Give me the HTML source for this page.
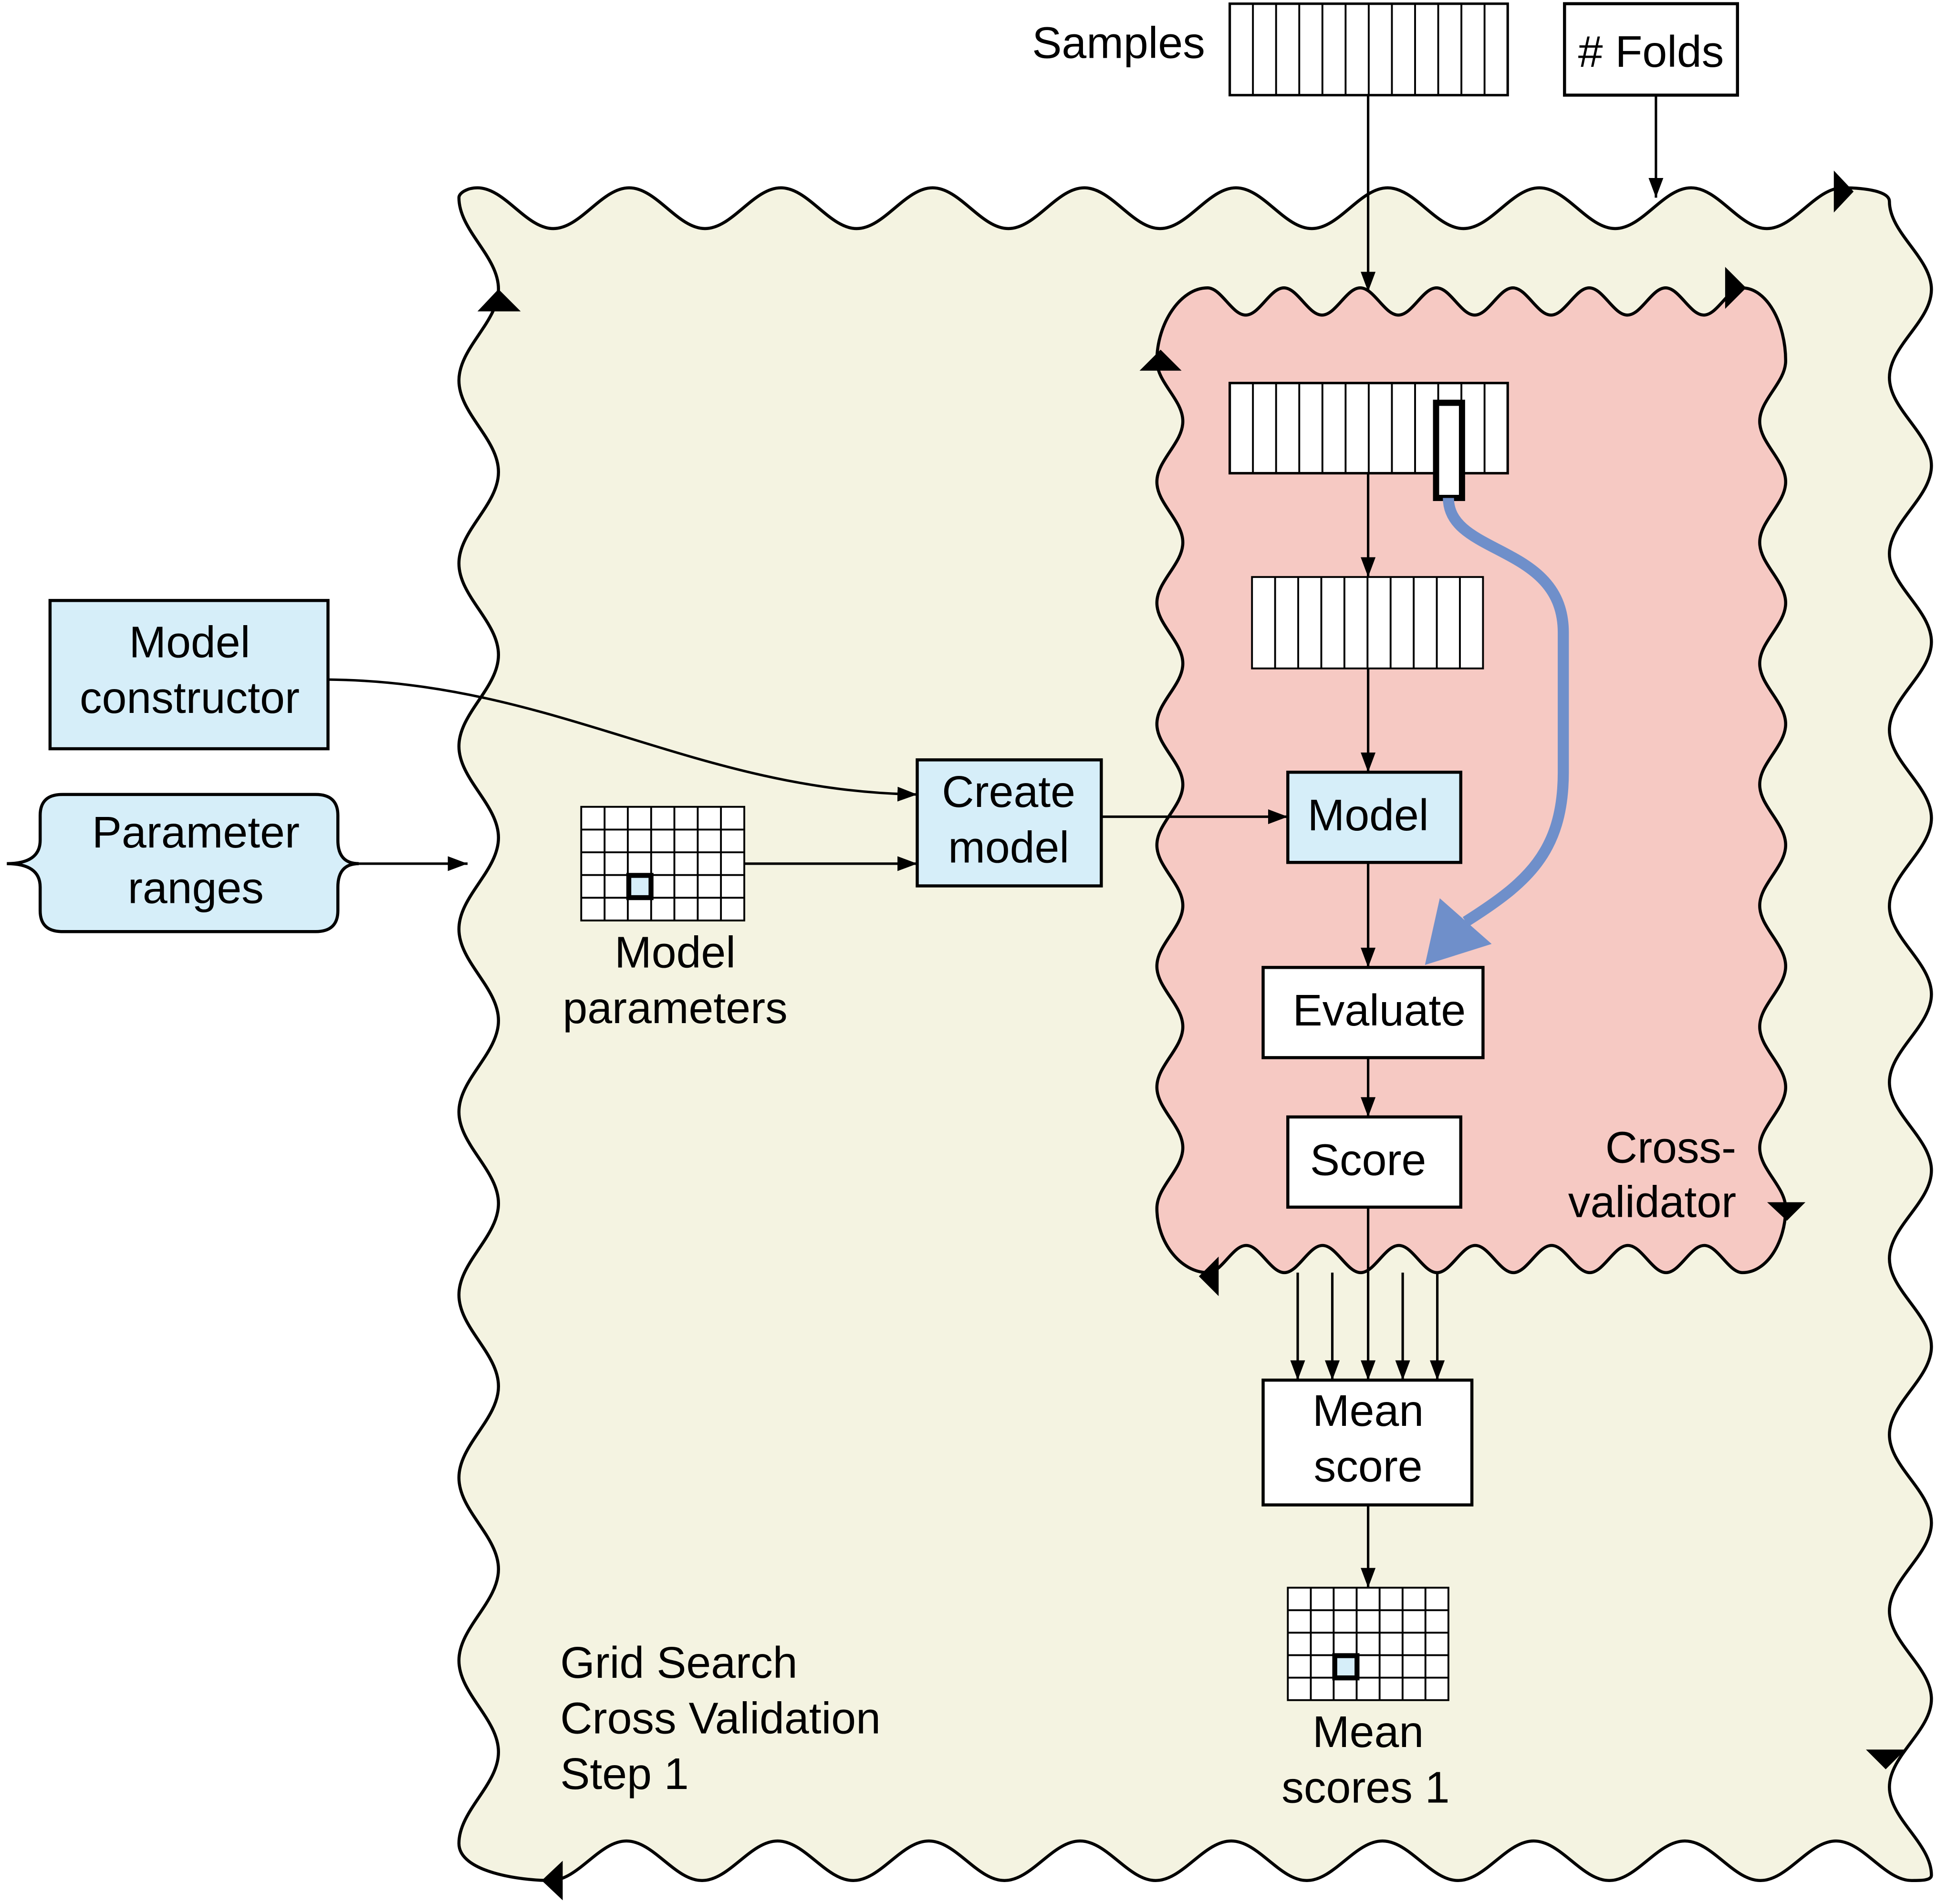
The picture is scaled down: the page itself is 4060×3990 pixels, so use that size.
<!DOCTYPE html>
<html><head><meta charset="utf-8"><style>html,body{margin:0;padding:0;background:#fff}svg{display:block}text{font-family:"Liberation Sans",sans-serif;font-size:36px;fill:#000}</style></head>
<body>
<svg width="4060" height="3990" viewBox="0 0 1567 1541" xmlns="http://www.w3.org/2000/svg">
<defs>
<marker id="a" viewBox="0 0 16 12" refX="16" refY="6" markerWidth="16" markerHeight="12" markerUnits="userSpaceOnUse" orient="auto"><path d="M0,0L16,6L0,12z" fill="#000"/></marker>
<pattern id="g12" x="995" y="0" width="18.75" height="2000" patternUnits="userSpaceOnUse"><rect width="18.75" height="2000" fill="#fff" stroke="#000" stroke-width="1.5"/></pattern>
</defs>
<style>.l{stroke:#000;stroke-width:2;fill:none}.b{stroke:#000;stroke-width:2.5}</style>
<!-- outer wavy region -->
<path d="M386 152 c22.1 0 39.3 33 61.4 33 s39.3 -33 61.4 -33 s39.3 33 61.4 33 s39.3 -33 61.4 -33 s39.3 33 61.4 33 s39.3 -33 61.4 -33 s39.3 33 61.4 33 s39.3 -33 61.4 -33 s39.3 33 61.4 33 s39.3 -33 61.4 -33 s39.3 33 61.4 33 s39.3 -33 61.4 -33 s39.3 33 61.4 33 s39.3 -33 61.4 -33 s39.3 33 61.4 33 s39.3 -33 61.4 -33 s39.3 33 61.4 33 s39.3 -33 61.4 -33
C1510 152 1529 155 1529 163
c0 25.7 34 45.6 34 71.3 s-34 45.6 -34 71.3 s34 45.6 34 71.3 s-34 45.6 -34 71.3 s34 45.6 34 71.3 s-34 45.6 -34 71.3 s34 45.6 34 71.3 s-34 45.6 -34 71.3 s34 45.6 34 71.3 s-34 45.6 -34 71.3 s34 45.6 34 71.3 s-34 45.6 -34 71.3 s34 45.6 34 71.3 s-34 45.6 -34 71.3 s34 45.6 34 71.3 s-34 45.6 -34 71.3 s34 45.6 34 71.3 s-34 45.6 -34 71.3 s34 45.6 34 71.3
C1563 1522 1555 1522 1547 1522
c-22 0 -39.2 -32 -61.2 -32 s-39.2 32 -61.2 32 s-39.2 -32 -61.2 -32 s-39.2 32 -61.2 32 s-39.2 -32 -61.2 -32 s-39.2 32 -61.2 32 s-39.2 -32 -61.2 -32 s-39.2 32 -61.2 32 s-39.2 -32 -61.2 -32 s-39.2 32 -61.2 32 s-39.2 -32 -61.2 -32 s-39.2 32 -61.2 32 s-39.2 -32 -61.2 -32 s-39.2 32 -61.2 32 s-39.2 -32 -61.2 -32 s-39.2 32 -61.2 32 s-39.2 -32 -61.2 -32 s-39.2 32 -61.2 32
C420 1522 371 1515 371 1492
c0 -26.6 32 -47.4 32 -74 s-32 -47.4 -32 -74 s32 -47.4 32 -74 s-32 -47.4 -32 -74 s32 -47.4 32 -74 s-32 -47.4 -32 -74 s32 -47.4 32 -74 s-32 -47.4 -32 -74 s32 -47.4 32 -74 s-32 -47.4 -32 -74 s32 -47.4 32 -74 s-32 -47.4 -32 -74 s32 -47.4 32 -74 s-32 -47.4 -32 -74 s32 -47.4 32 -74 s-32 -47.4 -32 -74 s32 -47.4 32 -74 s-32 -47.4 -32 -74
C371 156 378 152 386 152 z" fill="#f4f3e1" stroke="#000" stroke-width="2.5"/>
<!-- inner pink region -->
<path d="M936 292 C936 262 955 233 977 233
c11.1 0 19.8 22 30.9 22 s19.8 -22 30.9 -22 s19.8 22 30.9 22 s19.8 -22 30.9 -22 s19.8 22 30.9 22 s19.8 -22 30.9 -22 s19.8 22 30.9 22 s19.8 -22 30.9 -22 s19.8 22 30.9 22 s19.8 -22 30.9 -22 s19.8 22 30.9 22 s19.8 -22 30.9 -22 s19.8 22 30.9 22 s19.8 -22 30.9 -22
C1430 233 1445 262 1445 292
c0 17.6 -21 31.4 -21 49 s21 31.4 21 49 s-21 31.4 -21 49 s21 31.4 21 49 s-21 31.4 -21 49 s21 31.4 21 49 s-21 31.4 -21 49 s21 31.4 21 49 s-21 31.4 -21 49 s21 31.4 21 49 s-21 31.4 -21 49 s21 31.4 21 49 s-21 31.4 -21 49 s21 31.4 21 49
C1445 1005 1430 1030 1410 1030
c-11.1 0 -19.8 -22 -30.9 -22 s-19.8 22 -30.9 22 s-19.8 -22 -30.9 -22 s-19.8 22 -30.9 22 s-19.8 -22 -30.9 -22 s-19.8 22 -30.9 22 s-19.8 -22 -30.9 -22 s-19.8 22 -30.9 22 s-19.8 -22 -30.9 -22 s-19.8 22 -30.9 22 s-19.8 -22 -30.9 -22 s-19.8 22 -30.9 22 s-19.8 -22 -30.9 -22 s-19.8 22 -30.9 22
C955 1030 936 1005 936 978
c0 -17.6 21 -31.4 21 -49 s-21 -31.4 -21 -49 s21 -31.4 21 -49 s-21 -31.4 -21 -49 s21 -31.4 21 -49 s-21 -31.4 -21 -49 s21 -31.4 21 -49 s-21 -31.4 -21 -49 s21 -31.4 21 -49 s-21 -31.4 -21 -49 s21 -31.4 21 -49 s-21 -31.4 -21 -49 s21 -31.4 21 -49 s-21 -31.4 -21 -49 z" fill="#f6c9c3" stroke="#000" stroke-width="2.5"/>
<!-- boundary arrowheads -->
<g fill="#000">
<path d="M1484 138 L1500 155 L1484 172 z"/><path d="M386 252 L403 234 L421 252 z"/><path d="M1510 1416 L1526 1432 L1542 1416 z"/><path d="M455 1506 L438 1522 L455 1538 z"/>
<path d="M1396 216 L1413 233 L1396 250 z"/><path d="M922 300 L939 283 L956 300 z"/><path d="M1430 973 L1446 988 L1461 973 z"/><path d="M986 1017 L970 1033 L986 1049 z"/>
</g>
<!-- top inputs -->
<text x="975" y="47" text-anchor="end">Samples</text>
<rect x="995" y="3" width="225" height="74" fill="url(#g12)" stroke="#000" stroke-width="2"/>
<rect x="1266" y="3" width="140" height="74" fill="#fff" class="b"/>
<text x="1336" y="54" text-anchor="middle"># Folds</text>
<line x1="1340" y1="77" x2="1340" y2="160" class="l" marker-end="url(#a)"/>
<line x1="1107" y1="77" x2="1107" y2="236" class="l" marker-end="url(#a)"/>
<!-- inner grids -->
<rect x="995" y="310" width="225" height="73" fill="url(#g12)" stroke="#000" stroke-width="2"/>
<rect x="1162" y="326" width="21" height="77" fill="#fff" stroke="#000" stroke-width="5"/>
<line x1="1107" y1="383" x2="1107" y2="467" class="l" marker-end="url(#a)"/>
<g stroke="#000" stroke-width="1.5" fill="#fff"><rect x="1013" y="467" width="187" height="74"/>
<path d="M1031.7 467V541M1050.4 467V541M1069.1 467V541M1087.8 467V541M1106.5 467V541M1125.2 467V541M1143.9 467V541M1162.6 467V541M1181.3 467V541"/></g>
<line x1="1107" y1="541" x2="1107" y2="625" class="l" marker-end="url(#a)"/>
<rect x="1042" y="625" width="140" height="73" fill="#d6eef9" class="b"/>
<text x="1107" y="672" text-anchor="middle">Model</text>
<line x1="1107" y1="698" x2="1107" y2="783" class="l" marker-end="url(#a)"/>
<rect x="1022" y="783" width="178" height="73" fill="#fff" class="b"/>
<text x="1116" y="830" text-anchor="middle">Evaluate</text>
<line x1="1107" y1="856" x2="1107" y2="904" class="l" marker-end="url(#a)"/>
<rect x="1042" y="904" width="140" height="73" fill="#fff" class="b"/>
<text x="1107" y="951" text-anchor="middle">Score</text>
<!-- blue curve -->
<path d="M1172 403 C1172 450 1265 440 1265 512 L1265 625 C1265 690 1235 715 1186 746" fill="none" stroke="#6f8fca" stroke-width="9"/>
<path d="M1165 727 L1207 764 L1153 781 z" fill="#6f8fca"/>
<!-- fan to mean score -->
<g class="l"><line x1="1050" y1="1030" x2="1050" y2="1117" marker-end="url(#a)"/><line x1="1078" y1="1030" x2="1078" y2="1117" marker-end="url(#a)"/><line x1="1107" y1="977" x2="1107" y2="1117" marker-end="url(#a)"/><line x1="1135" y1="1030" x2="1135" y2="1117" marker-end="url(#a)"/><line x1="1163" y1="1030" x2="1163" y2="1117" marker-end="url(#a)"/></g>
<rect x="1022" y="1117" width="169" height="101" fill="#fff" class="b"/>
<text x="1107" y="1154" text-anchor="middle">Mean</text><text x="1107" y="1199" text-anchor="middle">score</text>
<line x1="1107" y1="1218" x2="1107" y2="1285" class="l" marker-end="url(#a)"/>
<g stroke="#000" stroke-width="1.5" fill="#fff"><rect x="1042" y="1285" width="130" height="91"/>
<path d="M1060.6 1285V1376M1079.1 1285V1376M1097.7 1285V1376M1116.3 1285V1376M1134.9 1285V1376M1153.4 1285V1376M1042 1303.2H1172M1042 1321.4H1172M1042 1339.6H1172M1042 1357.8H1172"/></g>
<rect x="1080" y="1340" width="18" height="18" fill="#d6eef9" stroke="#000" stroke-width="4"/>
<text x="1107" y="1414" text-anchor="middle">Mean</text><text x="1105" y="1459" text-anchor="middle">scores 1</text>
<!-- left side -->
<rect x="40" y="486" width="225" height="120" fill="#d6eef9" class="b"/>
<text x="153" y="532" text-anchor="middle">Model</text><text x="153" y="577" text-anchor="middle">constructor</text>
<path d="M265 550 C450 552 560 640 742 643" class="l" marker-end="url(#a)"/>
<path d="M5 699 Q32 699 32 680 L32 660 Q32 643 50 643 L255 643 Q273 643 273 660 L273 680 Q273 699 290 699 Q273 699 273 718 L273 737 Q273 754 255 754 L50 754 Q32 754 32 737 L32 718 Q32 699 5 699 z" fill="#d6eef9" class="b"/>
<text x="158" y="686" text-anchor="middle">Parameter</text><text x="158" y="731" text-anchor="middle">ranges</text>
<line x1="290" y1="699" x2="378" y2="699" class="l" marker-end="url(#a)"/>
<g stroke="#000" stroke-width="1.5" fill="#fff"><rect x="470" y="653" width="132" height="92"/>
<path d="M488.9 653V745M507.7 653V745M526.6 653V745M545.4 653V745M564.3 653V745M583.1 653V745M470 671.4H602M470 689.8H602M470 708.2H602M470 726.6H602"/></g>
<rect x="508.5" y="708.5" width="18" height="18" fill="#d6eef9" stroke="#000" stroke-width="4"/>
<text x="546" y="783" text-anchor="middle">Model</text><text x="546" y="828" text-anchor="middle">parameters</text>
<line x1="602" y1="699" x2="742" y2="699" class="l" marker-end="url(#a)"/>
<rect x="742" y="615" width="149" height="102" fill="#d6eef9" class="b"/>
<text x="816" y="653" text-anchor="middle">Create</text><text x="816" y="698" text-anchor="middle">model</text>
<line x1="891" y1="661" x2="1042" y2="661" class="l" marker-end="url(#a)"/>
<text x="1405" y="941" text-anchor="end">Cross-</text><text x="1405" y="985" text-anchor="end">validator</text>
<text x="453" y="1358">Grid Search</text><text x="453" y="1403">Cross Validation</text><text x="453" y="1448">Step 1</text>
</svg>
</body></html>
